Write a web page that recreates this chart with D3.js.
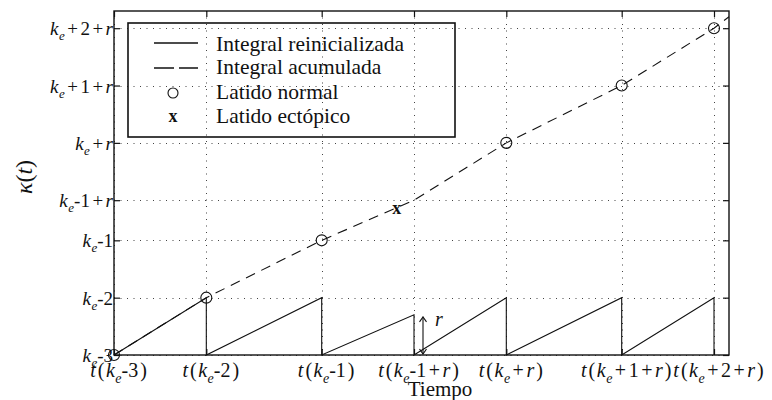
<!DOCTYPE html>
<html>
<head>
<meta charset="utf-8">
<script src="https://cdn.jsdelivr.net/npm/d3@7"></script>
<style>
  html, body { margin: 0; padding: 0; background: #fff; }
  svg { display: block; }
  text { font-family: "Liberation Serif", "DejaVu Serif", serif; fill: #111; }
</style>
</head>
<body>
<svg id="chart" width="772" height="400"></svg>
<script>
// Beat instants (time axis) and their labels
const beatTimes = [0, 0.8, 1.8, 2.6, 3.4, 4.4, 5.2];
const xTickLabels = ["t(k_e-3)", "t(k_e-2)", "t(k_e-1)", "t(k_e-1+r)", "t(k_e+r)", "t(k_e+1+r)", "t(k_e+2+r)"];

// Integral levels on the vertical axis
const r = 0.7;
const yTickValues = [0, 1, 2, 2 + r, 3 + r, 4 + r, 5 + r];
const yTickLabels = ["k_e-3", "k_e-2", "k_e-1", "k_e-1+r", "k_e+r", "k_e+1+r", "k_e+2+r"];

// Accumulated integral (dashed), sampled at the beats plus the end of the window
const accTimes = [0, 0.8, 1.8, 2.6, 3.4, 4.4, 5.2, 5.33];
const accValues = [0, 1, 2, 2 + r, 3 + r, 4 + r, 5 + r, 5.9];

// Reset integral (solid sawtooth): peak reached just before each reset
const resetPeaks = [1, 1, r, 1, 1, 1];

// Normal beats (circles) and the ectopic beat (x)
const normalTimes = [0, 0.8, 1.8, 3.4, 4.4, 5.2];
const normalValues = [0, 1, 2, 3 + r, 4 + r, 5 + r];
const ectopicTime = [2.45];
const ectopicValue = [2.55];

const legendLabels = ["Integral reinicializada", "Integral acumulada", "Latido normal", "Latido ectópico"];

const svg = d3.select("#chart");
const pLeft = 114, pRight = 729, pTop = 11, pBottom = 355;

const x = d3.scaleLinear().domain([0, 5.33]).range([pLeft, pRight]);
const y = d3.scaleLinear().domain([0, 6]).range([pBottom, pTop]);

// Writes a label such as "t(k_e+1+r)": letters in italics, "_e" as an italic
// subscript, with a little extra room around operators and parentheses
function mathText(sel, str, size) {
  const subSize = Math.round(size * 0.7);
  const shift = Math.round(size * 0.28);
  let down = false, pad = 0;
  for (let i = 0; i < str.length; i++) {
    let ch = str[i];
    if (ch === "_") {
      ch = str[++i];
      sel.append("tspan").attr("font-style", "italic").attr("font-size", subSize)
        .attr("dy", shift).attr("dx", 0.5).text(ch);
      down = true;
      continue;
    }
    const ts = sel.append("tspan").text(ch);
    let dx = pad;
    pad = 0;
    if (down) { ts.attr("dy", -shift); down = false; }
    if (/[a-z]/.test(ch)) ts.attr("font-style", "italic");
    if (ch === "+") { dx += 2.5; pad = 2.5; }
    if (ch === "(") { dx += 1; pad = 1.5; }
    if (ch === ")") { dx += 2; }
    if (ch === "t") { pad = 1; }
    if (dx) ts.attr("dx", dx);
  }
}

// Dotted grid
const grid = svg.append("g").attr("stroke", "#444").attr("stroke-width", 1)
  .attr("stroke-dasharray", "1,5.5");
grid.selectAll("line.gy").data(yTickValues).join("line")
  .attr("x1", pLeft).attr("x2", pRight)
  .attr("y1", d => Math.round(y(d)) + 0.5).attr("y2", d => Math.round(y(d)) + 0.5);
grid.selectAll("line.gx").data(beatTimes).join("line")
  .attr("y1", pTop).attr("y2", pBottom)
  .attr("x1", d => Math.round(x(d)) + 0.5).attr("x2", d => Math.round(x(d)) + 0.5);

// Axes with inward ticks on all four sides
const axL = svg.append("g").attr("transform", `translate(${pLeft},0)`)
  .call(d3.axisLeft(y).tickValues(yTickValues).tickSize(-6).tickFormat(() => ""));
const axR = svg.append("g").attr("transform", `translate(${pRight},0)`)
  .call(d3.axisRight(y).tickValues(yTickValues).tickSize(-6).tickFormat(() => ""));
const axB = svg.append("g").attr("transform", `translate(0,${pBottom})`)
  .call(d3.axisBottom(x).tickValues(beatTimes).tickSize(-6).tickFormat(() => ""));
const axT = svg.append("g").attr("transform", `translate(0,${pTop})`)
  .call(d3.axisTop(x).tickValues(beatTimes).tickSize(-6).tickFormat(() => ""));
[axL, axR, axB, axT].forEach(a => {
  a.select(".domain").remove();
  a.selectAll(".tick line").attr("stroke", "#111").attr("stroke-width", 1.2);
});

// Tick labels
axL.selectAll(".tick").each(function (d, i) {
  const t = d3.select(this).append("text").attr("x", -1).attr("y", 6.5)
    .attr("text-anchor", "end").attr("font-size", 19).attr("fill", "#111");
  mathText(t, yTickLabels[i], 19);
});
axB.selectAll(".tick").each(function (d, i) {
  const t = d3.select(this).append("text").attr("x", 4).attr("y", 22)
    .attr("text-anchor", "middle").attr("font-size", 20).attr("fill", "#111");
  mathText(t, xTickLabels[i], 20);
});

// Box
svg.append("rect").attr("x", pLeft).attr("y", pTop)
  .attr("width", pRight - pLeft).attr("height", pBottom - pTop)
  .attr("fill", "none").attr("stroke", "#111").attr("stroke-width", 1.4);

// Axis titles
svg.append("text").attr("x", 440).attr("y", 396)
  .attr("text-anchor", "middle").attr("font-size", 21).text("Tiempo");
const yl = svg.append("text").attr("transform", "translate(32,177) rotate(-90)")
  .attr("text-anchor", "middle").attr("font-size", 24);
yl.append("tspan").attr("font-style", "italic").text("κ");
yl.append("tspan").text("(");
yl.append("tspan").attr("font-style", "italic").text("t");
yl.append("tspan").text(")");

// Reset integral: ramps between beats, dropping back to zero at each beat
const sawPts = [];
for (let i = 0; i < resetPeaks.length; i++) {
  sawPts.push([beatTimes[i], 0]);
  sawPts.push([beatTimes[i + 1], resetPeaks[i]]);
}
sawPts.push([beatTimes[beatTimes.length - 1], 0]);
const line = d3.line().x(d => x(d[0])).y(d => y(d[1]));
svg.append("path").attr("d", line(sawPts)).attr("fill", "none")
  .attr("stroke", "#111").attr("stroke-width", 1.1);

// Accumulated integral
svg.append("path").attr("d", line(accTimes.map((t, i) => [t, accValues[i]])))
  .attr("fill", "none").attr("stroke", "#111").attr("stroke-width", 1.1)
  .attr("stroke-dasharray", "10,7");

// Normal beats
svg.selectAll("circle.beat").data(normalTimes).join("circle")
  .attr("cx", d => x(d)).attr("cy", (d, i) => y(normalValues[i])).attr("r", 5.5)
  .attr("fill", "none").attr("stroke", "#111").attr("stroke-width", 1.1);

// Ectopic beat
svg.selectAll("text.ect").data(ectopicTime).join("text")
  .attr("x", d => x(d)).attr("y", (d, i) => y(ectopicValue[i]) + 5)
  .attr("text-anchor", "middle").attr("font-size", 18).attr("font-weight", "bold").text("x");

// Arrow marking the partial integral r before the ectopic reset
const ax = x(beatTimes[3]) + 9, ay0 = y(0) - 1, ay1 = y(r) + 2;
const arr = svg.append("g").attr("stroke", "#111").attr("stroke-width", 1.1).attr("fill", "none");
arr.append("line").attr("x1", ax).attr("x2", ax).attr("y1", ay0).attr("y2", ay1);
arr.append("path").attr("d", `M${ax - 3.5},${ay1 + 5}L${ax},${ay1}L${ax + 3.5},${ay1 + 5}`);
arr.append("path").attr("d", `M${ax - 3.5},${ay0 - 5}L${ax},${ay0}L${ax + 3.5},${ay0 - 5}`);
svg.append("text").attr("x", ax + 12).attr("y", y(r * 0.5) - 9)
  .attr("font-size", 20).attr("font-style", "italic").text("r");

// Legend
const lg = svg.append("g");
lg.append("rect").attr("x", 128).attr("y", 23).attr("width", 327).attr("height", 114)
  .attr("fill", "none").attr("stroke", "#111").attr("stroke-width", 1.6);
const rowY = [43, 68, 93, 117];
const baseY = [50.5, 74, 98.5, 123];
lg.append("line").attr("x1", 154).attr("x2", 198).attr("y1", rowY[0]).attr("y2", rowY[0])
  .attr("stroke", "#111").attr("stroke-width", 1.3);
lg.append("line").attr("x1", 154).attr("x2", 198).attr("y1", rowY[1]).attr("y2", rowY[1])
  .attr("stroke", "#111").attr("stroke-width", 1.3).attr("stroke-dasharray", "20,5");
lg.append("circle").attr("cx", 173).attr("cy", rowY[2]).attr("r", 5)
  .attr("fill", "none").attr("stroke", "#111").attr("stroke-width", 1.1);
lg.append("text").attr("x", 173).attr("y", rowY[3] + 5).attr("text-anchor", "middle")
  .attr("font-size", 18).attr("font-weight", "bold").text("x");
lg.selectAll("text.lab").data(legendLabels).join("text")
  .attr("x", 216).attr("y", (d, i) => baseY[i])
  .attr("font-size", 21.5).text(d => d);
</script>
</body>
</html>
